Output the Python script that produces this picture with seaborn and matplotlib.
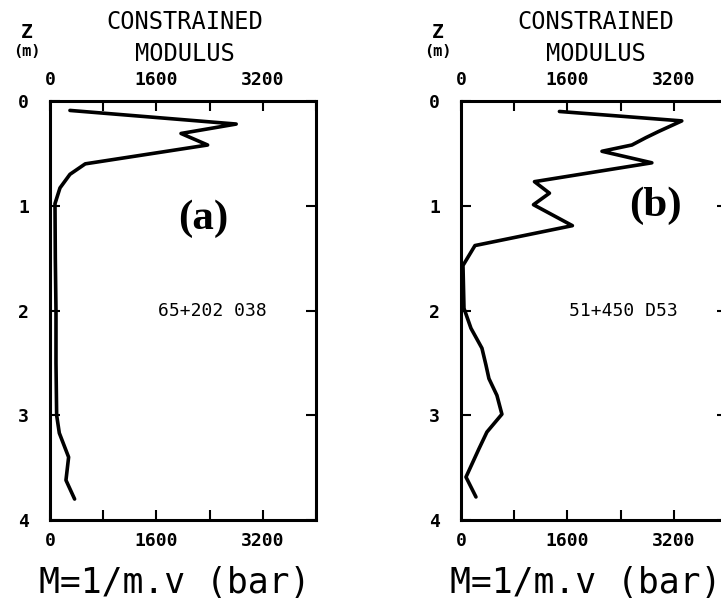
import numpy as np
import pandas as pd
import matplotlib
matplotlib.use("Agg")
import matplotlib.pyplot as plt
import seaborn as sns

# profile (a): 65+202 038
depth_a = [0.09, 0.22, 0.31, 0.42, 0.60, 0.70, 0.83, 0.98, 1.5, 2.0, 2.5, 3.0, 3.17, 3.4, 3.62, 3.8]
mod_a = [300, 2800, 1970, 2370, 530, 300, 150, 75, 80, 90, 90, 100, 140, 280, 240, 370]

# profile (b): 51+450 D53
depth_b = [0.10, 0.19, 0.29, 0.35, 0.42, 0.48, 0.59, 0.77, 0.88, 0.99, 1.19, 1.38, 1.57,
           1.98, 2.17, 2.36, 2.52, 2.65, 2.81, 2.99, 3.16, 3.32, 3.59, 3.78]
mod_b = [1480, 3320, 2975, 2780, 2570, 2120, 2870, 1105, 1330, 1090, 1675, 210, 30,
         45, 150, 315, 375, 420, 540, 615, 390, 270, 75, 225]

panel_tags = ["(a)", "(b)"]
site_labels = ["65+202 038", "51+450 D53"]
x_major = [0, 1600, 3200]
x_minor = [800, 2400, 4000]
y_ticks = [0, 1, 2, 3, 4]

sns.set_style("ticks")
plt.rcParams["font.family"] = ["DejaVu Sans Mono", "DejaVu Sans"]
plt.rcParams["text.color"] = "black"
plt.rcParams["xtick.color"] = "black"
plt.rcParams["ytick.color"] = "black"

W, H = 721, 605
fig = plt.figure(figsize=(W / 100, H / 100), dpi=100)


def fx(px):
    return px / W


def fy(py):
    return 1 - py / H


mono = "DejaVu Sans Mono"
panels = [
    (pd.DataFrame({"depth": depth_a, "M": mod_a}), 50, 316, (0.575, 0.72)),
    (pd.DataFrame({"depth": depth_b, "M": mod_b}), 461, 727, (0.73, 0.75)),
]
top, bottom = 101, 520

for i, (df, left, right, tag_pos) in enumerate(panels):
    ax = fig.add_axes([fx(left), fy(bottom), (right - left) / W, (bottom - top) / H])
    sns.lineplot(data=df, x="M", y="depth", orient="y", sort=False, estimator=None,
                 color="black", linewidth=2.6, ax=ax)
    ax.set_xlim(0, 4000)
    ax.set_ylim(4, 0)
    ax.set_xticks(x_major)
    ax.set_xticks(x_minor, minor=True)
    ax.set_yticks(y_ticks)
    ax.set_xticklabels([str(v) for v in x_major], fontsize=13, fontweight="bold", family=mono)
    ax.set_yticklabels([str(v) for v in y_ticks], fontsize=13, fontweight="bold", family=mono)
    ax.tick_params(axis="x", which="both", direction="in", top=True, bottom=True,
                   labeltop=True, labelbottom=True, length=7, width=1.5, pad=9)
    ax.tick_params(axis="y", which="both", direction="in", left=True, right=True,
                   length=7, width=1.5, pad=15)
    ax.set_xlabel("")
    ax.set_ylabel("")
    for sp in ax.spines.values():
        sp.set_linewidth(2.2)
        sp.set_color("black")

    # panel tag and site label
    ax.text(tag_pos[0], tag_pos[1], panel_tags[i], transform=ax.transAxes, ha="center",
            va="center", fontsize=31, fontweight="bold", family="Liberation Serif")
    ax.text(0.61, 0.50, site_labels[i], transform=ax.transAxes, ha="center", va="center",
            fontsize=13, family=mono)

    cx = left + 135
    fig.text(fx(left - 23), fy(32), "Z", ha="center", va="center", fontsize=14,
             fontweight="bold", family=mono)
    fig.text(fx(left - 23), fy(52), "(m)", ha="center", va="center", fontsize=11,
             fontweight="bold", family=mono)
    fig.text(fx(cx), fy(22), "CONSTRAINED", ha="center", va="center", fontsize=17, family=mono)
    fig.text(fx(cx), fy(54), "MODULUS", ha="center", va="center", fontsize=17, family=mono)
    fig.text(fx(cx - 10), fy(583), "M=1/m.v (bar)", ha="center", va="center",
             fontsize=25, family=mono)

fig.savefig("out.png", dpi=100)
